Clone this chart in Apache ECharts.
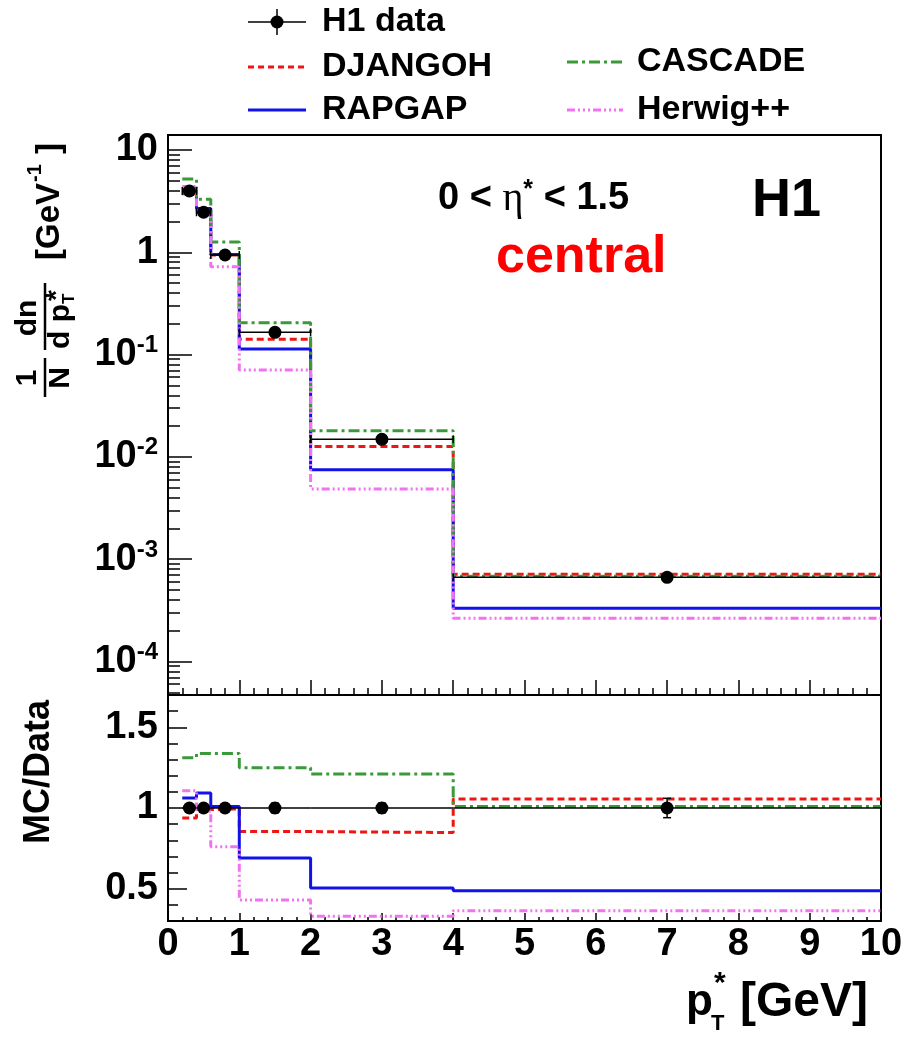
<!DOCTYPE html>
<html><head><meta charset="utf-8">
<script src="https://cdn.jsdelivr.net/npm/echarts@6/dist/echarts.min.js"></script>
<style>html,body{margin:0;padding:0;background:#fff}#c{width:912px;height:1040px}</style>
</head><body><div id="c"></div>
<script>
// ---- data ----
const binEdges = [0.2, 0.4, 0.6, 1.0, 2.0, 4.0, 10.0];
const h1Data = [3.97, 2.46, 0.94, 0.165, 0.01485, 6.65e-4];
const h1RelErr = [0.02, 0.02, 0.02, 0.03, 0.03, 0.06];
const djangoh = [3.73, 2.44, 0.94, 0.141, 0.0126, 7.1e-4];
const rapgap = [4.22, 2.68, 0.95, 0.1135, 0.0075, 3.31e-4];
const cascade = [5.2, 3.29, 1.26, 0.205, 0.018, 6.8e-4];
const herwig = [4.4, 2.42, 0.72, 0.0708, 0.00485, 2.65e-4];
const ratioDjangoh = [0.938, 0.99, 0.995, 0.854, 0.848, 1.056];
const ratioRapgap = [1.062, 1.093, 1.01, 0.69, 0.504, 0.487];
const ratioCascade = [1.311, 1.338, 1.338, 1.249, 1.21, 1.01];
const ratioHerwig = [1.107, 0.98, 0.76, 0.43, 0.33, 0.364];
const logMajorTicks = [1e-4, 1e-3, 1e-2, 1e-1, 1, 10];
const logMinorTicks = [5e-5,6e-5,7e-5,8e-5,9e-5,
  2e-4,3e-4,4e-4,5e-4,6e-4,7e-4,8e-4,9e-4,
  2e-3,3e-3,4e-3,5e-3,6e-3,7e-3,8e-3,9e-3,
  0.02,0.03,0.04,0.05,0.06,0.07,0.08,0.09,
  0.2,0.3,0.4,0.5,0.6,0.7,0.8,0.9,
  2,3,4,5,6,7,8,9];
const ratioMajorTicks = [0.5, 1, 1.5];

// ---- styles ----
const FONT = '"Liberation Sans", Arial, Helvetica, sans-serif';
const C_RED = '#f01414', C_BLUE = '#1212e8', C_GREEN = '#3a9a3a', C_MAG = '#f272f2';
const DASH_RED = [7, 4], DASH_GREEN = [11, 4, 3, 4], DASH_MAG = [8, 3, 2, 3, 2, 3, 2, 3];

function stepPoints(vals) {
  const pts = vals.map((v, i) => [binEdges[i], v]);
  pts.push([binEdges[binEdges.length - 1], vals[vals.length - 1]]);
  return pts;
}
function mcSeries(name, vals, color, dash, xi, yi) {
  return {
    name, type: 'line', step: 'end', xAxisIndex: xi, yAxisIndex: yi,
    data: stepPoints(vals), showSymbol: false, symbol: 'none', silent: true,
    lineStyle: { color, width: 3, type: dash || 'solid' }, z: 3, animation: false
  };
}
function dataSeries(vals, relErr, xi, yi, ratio) {
  const items = vals.map((v, i) => {
    const y = ratio ? 1 : v;
    const e = ratio ? relErr[i] : v * relErr[i];
    return [(binEdges[i] + binEdges[i + 1]) / 2, y, binEdges[i], binEdges[i + 1], y - e, y + e];
  });
  return {
    type: 'custom', xAxisIndex: xi, yAxisIndex: yi, z: 10, animation: false, silent: true,
    data: items, encode: { x: [0, 2, 3], y: [1, 4, 5] },
    renderItem(params, api) {
      const c = api.coord([api.value(0), api.value(1)]);
      const l = api.coord([api.value(2), api.value(1)]);
      const r = api.coord([api.value(3), api.value(1)]);
      const lo = api.coord([api.value(0), api.value(4)]);
      const hi = api.coord([api.value(0), api.value(5)]);
      const st = { stroke: '#000', lineWidth: 1.5 };
      const kids = [
        { type: 'line', shape: { x1: l[0], y1: l[1], x2: r[0], y2: r[1] }, style: st },
        { type: 'line', shape: { x1: c[0], y1: lo[1], x2: c[0], y2: hi[1] }, style: st },
        { type: 'line', shape: { x1: c[0] - 4, y1: lo[1], x2: c[0] + 4, y2: lo[1] }, style: st },
        { type: 'line', shape: { x1: c[0] - 4, y1: hi[1], x2: c[0] + 4, y2: hi[1] }, style: st },
        { type: 'circle', shape: { cx: c[0], cy: c[1], r: 6.5 }, style: { fill: '#000' } }
      ];
      if (!ratio) {
        kids.push({ type: 'line', shape: { x1: l[0], y1: l[1] - 4, x2: l[0], y2: l[1] + 4 }, style: st });
        kids.push({ type: 'line', shape: { x1: r[0], y1: r[1] - 4, x2: r[0], y2: r[1] + 4 }, style: st });
      }
      return { type: 'group', children: kids };
    }
  };
}

const blackLine = { show: true, lineStyle: { color: '#000', width: 2 } };
const tickStyle = { color: '#000', width: 1.5 };
const labelFont = { fontFamily: FONT, fontWeight: 'bold', fontSize: 38, color: '#000' };

function xAxisDef(grid, major, minor, showLabels) {
  return {
    gridIndex: grid, type: 'value', min: 0, max: 10, interval: 1, position: 'bottom',
    axisLine: blackLine,
    axisTick: { show: true, inside: true, length: major, lineStyle: tickStyle },
    minorTick: { show: true, splitNumber: 5, length: minor, lineStyle: tickStyle },
    splitLine: { show: false }, minorSplitLine: { show: false },
    axisLabel: showLabels ? Object.assign({ show: true, margin: 5 }, labelFont) : { show: false }
  };
}

const option = {
  animation: false,
  backgroundColor: '#fff',
  textStyle: { fontFamily: FONT },
  grid: [
    { left: 168, right: 31, top: 135, height: 560, show: true, borderColor: '#000', borderWidth: 2, backgroundColor: 'transparent', outerBoundsMode: 'none', containLabel: false },
    { left: 168, right: 31, top: 695, height: 226, show: true, borderColor: '#000', borderWidth: 2, backgroundColor: 'transparent', outerBoundsMode: 'none', containLabel: false }
  ],
  xAxis: [xAxisDef(0, 15, 7, false), xAxisDef(1, 8, 4, true)],
  yAxis: [
    {
      gridIndex: 0, type: 'log', logBase: 10, min: 4.7e-5, max: 14, position: 'left',
      axisLine: blackLine, splitLine: { show: false },
      axisTick: { show: true, inside: true, length: 24, lineStyle: tickStyle, customValues: logMajorTicks },
      axisLabel: {
        show: true, margin: 10, customValues: logMajorTicks,
        formatter: v => {
          const e = Math.round(Math.log10(v));
          if (e === 0) return '{b|1}';
          if (e === 1) return '{b|10}';
          return '{b|10}{s|' + e + '}';
        },
        rich: {
          b: { fontFamily: FONT, fontWeight: 'bold', fontSize: 38, lineHeight: 42, color: '#000', verticalAlign: 'middle' },
          s: { fontFamily: FONT, fontWeight: 'bold', fontSize: 24, lineHeight: 24, color: '#000', verticalAlign: 'top' }
        }
      }
    },
    {
      gridIndex: 0, type: 'log', logBase: 10, min: 4.7e-5, max: 14, position: 'left', offset: 0,
      axisLine: { show: false }, splitLine: { show: false }, axisLabel: { show: false },
      axisTick: { show: true, inside: true, length: 12, lineStyle: tickStyle, customValues: logMinorTicks }
    },
    {
      gridIndex: 1, type: 'value', min: 0.3, max: 1.7, interval: 0.1, position: 'left',
      axisLine: blackLine, splitLine: { show: false }, axisLabel: { show: false },
      axisTick: { show: true, inside: true, length: 10, lineStyle: tickStyle }
    },
    {
      gridIndex: 1, type: 'value', min: 0.3, max: 1.7, position: 'left', offset: 0,
      axisLine: { show: false }, splitLine: { show: false },
      axisTick: { show: true, inside: true, length: 19, lineStyle: tickStyle, customValues: ratioMajorTicks },
      axisLabel: Object.assign({ show: true, margin: 10, customValues: ratioMajorTicks, formatter: v => String(v) }, labelFont)
    }
  ],
  series: [
    mcSeries('DJANGOH', djangoh, C_RED, DASH_RED, 0, 0),
    mcSeries('RAPGAP', rapgap, C_BLUE, null, 0, 0),
    mcSeries('CASCADE', cascade, C_GREEN, DASH_GREEN, 0, 0),
    mcSeries('Herwig++', herwig, C_MAG, DASH_MAG, 0, 0),
    dataSeries(h1Data, h1RelErr, 0, 0, false),
    mcSeries('DJANGOH', ratioDjangoh, C_RED, DASH_RED, 1, 2),
    mcSeries('RAPGAP', ratioRapgap, C_BLUE, null, 1, 2),
    mcSeries('CASCADE', ratioCascade, C_GREEN, DASH_GREEN, 1, 2),
    mcSeries('Herwig++', ratioHerwig, C_MAG, DASH_MAG, 1, 2),
    dataSeries(h1Data, h1RelErr, 1, 2, true)
  ],
  graphic: [
    // legend
    { type: 'line', shape: { x1: 248, y1: 22, x2: 306, y2: 22 }, style: { stroke: '#000', lineWidth: 1.5 } },
    { type: 'line', shape: { x1: 277, y1: 9, x2: 277, y2: 35 }, style: { stroke: '#000', lineWidth: 1.5 } },
    { type: 'circle', shape: { cx: 277, cy: 22, r: 6.5 }, style: { fill: '#000' } },
    { type: 'text', x: 322, y: 22, style: { text: 'H1 data', font: 'bold 34px ' + FONT, fill: '#000', verticalAlign: 'middle' } },
    { type: 'line', shape: { x1: 248, y1: 67, x2: 306, y2: 67 }, style: { stroke: C_RED, lineWidth: 3, lineDash: [6, 4] } },
    { type: 'text', x: 322, y: 67, style: { text: 'DJANGOH', font: 'bold 34px ' + FONT, fill: '#000', verticalAlign: 'middle' } },
    { type: 'line', shape: { x1: 248, y1: 110, x2: 306, y2: 110 }, style: { stroke: C_BLUE, lineWidth: 3 } },
    { type: 'text', x: 322, y: 110, style: { text: 'RAPGAP', font: 'bold 34px ' + FONT, fill: '#000', verticalAlign: 'middle' } },
    { type: 'line', shape: { x1: 567, y1: 62, x2: 623, y2: 62 }, style: { stroke: C_GREEN, lineWidth: 3, lineDash: DASH_GREEN } },
    { type: 'text', x: 637, y: 62, style: { text: 'CASCADE', font: 'bold 34px ' + FONT, fill: '#000', verticalAlign: 'middle' } },
    { type: 'line', shape: { x1: 567, y1: 110, x2: 623, y2: 110 }, style: { stroke: C_MAG, lineWidth: 3, lineDash: DASH_MAG } },
    { type: 'text', x: 637, y: 110, style: { text: 'Herwig++', font: 'bold 34px ' + FONT, fill: '#000', verticalAlign: 'middle' } },
    // annotations
    { type: 'text', x: 438, y: 199, style: {
        text: '{a|0 < }{g|η}{s|*}{a| < 1.5}', verticalAlign: 'middle',
        rich: {
          a: { font: 'bold 38px ' + FONT, fill: '#000', lineHeight: 42 },
          g: { font: '40px "Liberation Serif", "DejaVu Serif", serif', fill: '#000', lineHeight: 42 },
          s: { font: 'bold 25px ' + FONT, fill: '#000', lineHeight: 25, verticalAlign: 'top' }
        } } },
    { type: 'text', x: 752, y: 201, style: { text: 'H1', font: 'bold 54px ' + FONT, fill: '#000', verticalAlign: 'middle' } },
    { type: 'text', x: 496, y: 258, style: { text: 'central', font: 'bold 52px ' + FONT, fill: '#ff0000', verticalAlign: 'middle' } },
    // y title (top)
    { type: 'group', x: 45, y: 400, rotation: Math.PI / 2, children: [
        { type: 'text', x: 22, y: -2, style: { text: '1', font: 'bold 30px ' + FONT, fill: '#000', align: 'center', verticalAlign: 'bottom' } },
        { type: 'line', shape: { x1: 3, y1: 0, x2: 42, y2: 0 }, style: { stroke: '#000', lineWidth: 2.5 } },
        { type: 'text', x: 22, y: 1, style: { text: 'N', font: 'bold 30px ' + FONT, fill: '#000', align: 'center', verticalAlign: 'top' } },
        { type: 'text', x: 82, y: -2, style: { text: 'dn', font: 'bold 30px ' + FONT, fill: '#000', align: 'center', verticalAlign: 'bottom' } },
        { type: 'line', shape: { x1: 50, y1: 0, x2: 117, y2: 0 }, style: { stroke: '#000', lineWidth: 2.5 } },
        { type: 'text', x: 51, y: 1, style: { text: 'd p', font: 'bold 30px ' + FONT, fill: '#000', align: 'left', verticalAlign: 'top' } },
        { type: 'text', x: 96, y: 16, style: { text: 'T', font: 'bold 17px ' + FONT, fill: '#000', align: 'left', verticalAlign: 'top' } },
        { type: 'text', x: 99, y: -2, style: { text: '*', font: 'bold 28px ' + FONT, fill: '#000', align: 'left', verticalAlign: 'top' } },
        { type: 'text', x: 140, y: 5, style: { text: '[GeV', font: 'bold 33px ' + FONT, fill: '#000', align: 'left', verticalAlign: 'middle' } },
        { type: 'text', x: 218, y: -10, style: { text: '-1', font: 'bold 20px ' + FONT, fill: '#000', align: 'left', verticalAlign: 'middle' } },
        { type: 'text', x: 246, y: 5, style: { text: ']', font: 'bold 33px ' + FONT, fill: '#000', align: 'left', verticalAlign: 'middle' } }
    ] },
    // y title (bottom)
    { type: 'text', x: 39, y: 772, rotation: Math.PI / 2, style: { text: 'MC/Data', font: 'bold 36px ' + FONT, fill: '#000', align: 'center', verticalAlign: 'middle' } },
    // x title
    { type: 'text', x: 686, y: 1003, style: { text: 'p', font: 'bold 44px ' + FONT, fill: '#000', verticalAlign: 'middle' } },
    { type: 'text', x: 711, y: 1024, style: { text: 'T', font: 'bold 22px ' + FONT, fill: '#000', verticalAlign: 'middle' } },
    { type: 'text', x: 714, y: 984, style: { text: '*', font: 'bold 30px ' + FONT, fill: '#000', verticalAlign: 'middle' } },
    { type: 'text', x: 740, y: 1003, style: { text: '[GeV]', font: 'bold 48px ' + FONT, fill: '#000', verticalAlign: 'middle' } }
  ]
};
const chart = echarts.init(document.getElementById('c'), null, { renderer: 'canvas' });
chart.setOption(option);
</script>
</body></html>
